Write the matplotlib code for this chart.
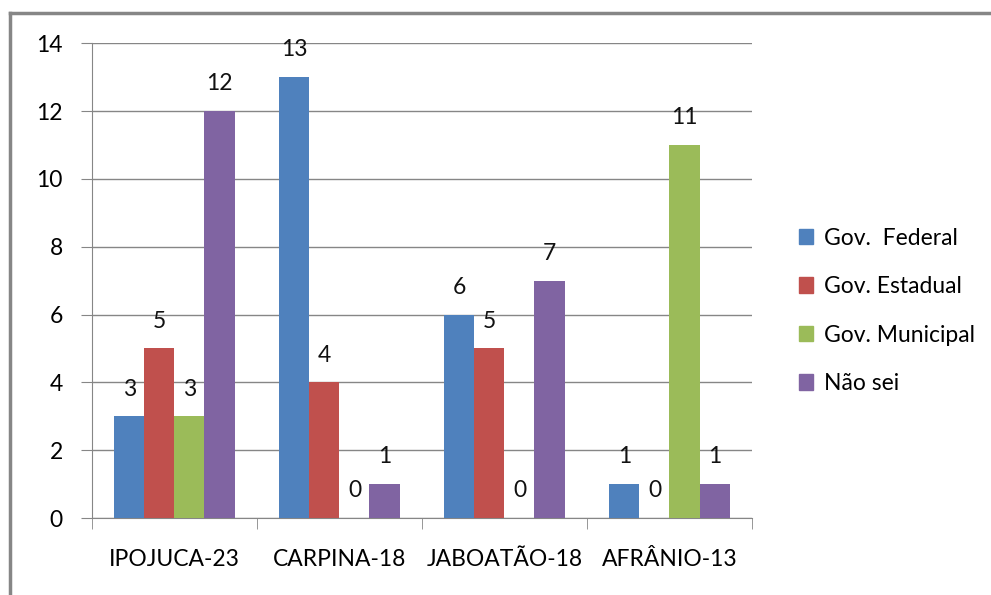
import numpy as np
import matplotlib
matplotlib.use("Agg")
import matplotlib.pyplot as plt
from matplotlib.lines import Line2D

plt.rcParams['font.family'] = ['Lato', 'DejaVu Sans']

categories = ["IPOJUCA-23", "CARPINA-18", "JABOATÃO-18", "AFRÂNIO-13"]
series_names = ["Gov.  Federal", "Gov. Estadual", "Gov. Municipal", "Não sei"]
federal = [3, 13, 6, 1]
estadual = [5, 4, 5, 0]
municipal = [3, 0, 0, 11]
nao_sei = [12, 1, 7, 1]
series = [federal, estadual, municipal, nao_sei]
colors = ["#4F81BD", "#C0504D", "#9BBB59", "#8064A2"]

fs = 16.5

fig = plt.figure(figsize=(9.91, 5.95), dpi=100)
ax = fig.add_axes([0.0928, 0.1294, 0.666, 0.798])

x = np.arange(len(categories))
bw = 0.182
for i, vals in enumerate(series):
    pos = x + (i - 1.5) * bw
    bars = ax.bar(pos, vals, bw, color=colors[i], label=series_names[i], zorder=3)
    for b, v in zip(bars, vals):
        ax.annotate(str(v), (b.get_x() + b.get_width() / 2, v),
                    xytext=(0, 12), textcoords="offset points",
                    ha="center", va="bottom", fontsize=fs, color="#111111")

ax.set_xlim(-0.5, len(categories) - 0.5)
ax.set_ylim(0, 14)
ax.set_yticks(range(0, 15, 2))
ax.set_xticks(x)
ax.set_xticklabels(categories)
ax.set_xticks(np.arange(-0.5, len(categories)), minor=True)
ax.yaxis.grid(True, color="#868686", linewidth=1, zorder=0)
for s in ["top", "right"]:
    ax.spines[s].set_visible(False)
for s in ["left", "bottom"]:
    ax.spines[s].set_color("#868686")
ax.tick_params(axis="y", length=8, color="#868686", labelsize=fs, pad=13)
ax.tick_params(axis="x", which="major", length=0, labelsize=fs, pad=22)
ax.tick_params(axis="x", which="minor", length=8, color="#868686")

handles = [plt.Rectangle((0, 0), 1, 1, color=c) for c in colors]
fig.legend(handles, series_names, loc="upper left", bbox_to_anchor=(0.785, 0.652),
           frameon=False, fontsize=fs, handlelength=0.65, handleheight=0.65,
           handletextpad=0.45, labelspacing=1.2)

# outer frame of the chart
fig.add_artist(Line2D([10 / 991, 1], [1 - 13 / 595, 1 - 13 / 595],
                      color="#868686", linewidth=2.5, transform=fig.transFigure))
fig.add_artist(Line2D([10 / 991, 10 / 991], [0, 1 - 13 / 595],
                      color="#868686", linewidth=2.5, transform=fig.transFigure))

fig.savefig("out.png", dpi=100)
